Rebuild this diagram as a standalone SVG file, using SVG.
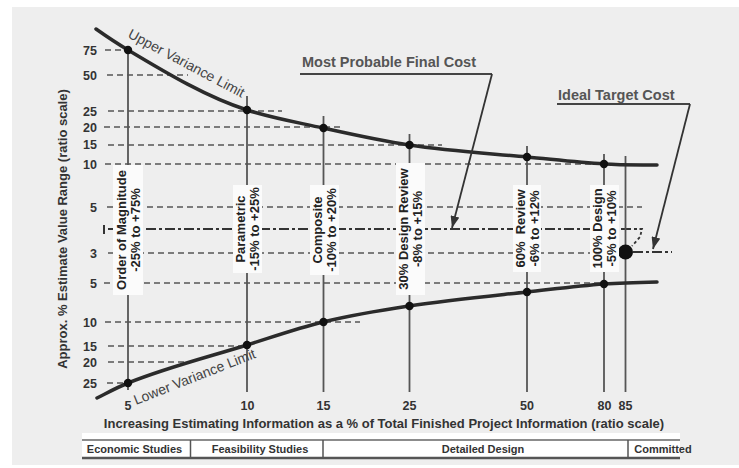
<svg xmlns="http://www.w3.org/2000/svg" width="739" height="468" viewBox="0 0 739 468">
<style>
.t{font-family:"Liberation Sans",Arial,sans-serif;font-weight:bold;fill:#333}
.tk{font-size:12.5px}
.bx{font-size:13px;text-anchor:middle;fill:#222}
.dash{stroke:#555;stroke-width:1.6;stroke-dasharray:6 4;fill:none}
.dd{stroke:#333;stroke-width:2;stroke-dasharray:10 3 3 3;fill:none}
.vl{stroke:#555;stroke-width:1.8}
.curve{stroke:#2b2b2b;stroke-width:3.5;fill:none;stroke-linecap:round}
.dot{fill:#111}
.box{fill:#fbfbfb}
.lim{font-family:"Liberation Sans",Arial,sans-serif;font-size:14px;fill:#444}
.call{font-family:"Liberation Sans",Arial,sans-serif;font-weight:bold;font-size:14.5px;fill:#555}
.tbl{font-family:"Liberation Sans",Arial,sans-serif;font-weight:bold;font-size:11px;fill:#333;text-anchor:middle}
</style>
<defs>
<marker id="ah" markerUnits="userSpaceOnUse" markerWidth="13" markerHeight="9" refX="12" refY="4.5" orient="auto">
<path d="M0,0 L12,4.5 L0,9 z" fill="#333"/>
</marker>
</defs>
<rect x="0" y="0" width="739" height="468" fill="#ffffff"/>
<rect x="12" y="7" width="727" height="458" fill="#eeeeee"/>

<g id="grid">
<line class="dash" x1="105" y1="50" x2="124" y2="50"/>
<line class="dash" x1="107" y1="75" x2="188" y2="75"/>
<line class="dash" x1="108" y1="111" x2="282" y2="111"/>
<line class="dash" x1="104" y1="127" x2="343" y2="127"/>
<line class="dash" x1="108" y1="145" x2="442" y2="145"/>
<line class="dash" x1="105" y1="164" x2="602" y2="164"/>
<line class="dash" x1="107" y1="207" x2="642" y2="207"/>
<line class="dd" x1="108" y1="229" x2="640" y2="229"/>
<line stroke="#333" stroke-width="2" x1="104" y1="225" x2="104" y2="234"/>
<line class="dash" x1="108" y1="253" x2="620" y2="253"/>
<line class="dd" x1="633" y1="252" x2="672" y2="252"/>
<path d="M634,229 L642,229 L640,237 L632,246" stroke="#333" stroke-width="1.8" stroke-dasharray="3 2.5" fill="none"/>
<line class="dash" x1="104" y1="283" x2="604" y2="283"/>
<line class="dash" x1="105" y1="322" x2="360" y2="322"/>
<line class="dash" x1="108" y1="346" x2="245" y2="346"/>
<line class="dash" x1="108" y1="362" x2="185" y2="362"/>
<line class="dash" x1="107" y1="383" x2="125" y2="383"/>
</g>

<g id="verticals">
<line class="vl" x1="128" y1="50" x2="128" y2="390"/>
<line class="vl" x1="247" y1="96" x2="247" y2="392"/>
<line class="vl" x1="323.5" y1="116" x2="323.5" y2="392"/>
<line class="vl" x1="409.5" y1="134" x2="409.5" y2="392"/>
<line class="vl" x1="527" y1="146" x2="527" y2="392"/>
<line class="vl" x1="604" y1="154" x2="604" y2="392"/>
<line class="vl" x1="625.5" y1="156" x2="625.5" y2="392"/>
</g>

<g id="curves">
<path class="curve" d="M96,29 C106.7,36.5 117.3,43.6 128,50 C167.7,73.8 207.3,97.3 247,110 C272.3,118.1 297.7,122.4 323,128 C351.7,134.3 380.3,140.7 409,145 C448.3,150.9 487.7,153.3 527,157 C552.7,159.4 578.3,162.5 604,164 C621.7,165.1 639.3,164.8 657,165"/>
<path class="curve" d="M97,398 C107.3,392.8 117.7,387.1 128,383 C167.7,367.1 207.3,357.3 247,345 C272.3,337.1 297.7,328.1 323,322 C351.7,315.1 380.3,310.3 409,306 C448.3,300.1 487.7,296.3 527,292 C552.7,289.2 578.3,285.8 604,284 C621.7,282.8 639.3,282.4 657,282"/>
<g class="dot">
<circle cx="128" cy="50" r="4.2"/><circle cx="247" cy="110" r="4.2"/><circle cx="323.5" cy="128" r="4.2"/>
<circle cx="409.5" cy="145" r="4.2"/><circle cx="527" cy="157" r="4.2"/><circle cx="604" cy="164" r="4.2"/>
<circle cx="128" cy="383" r="4.2"/><circle cx="247" cy="345" r="4.2"/><circle cx="323.5" cy="322" r="4.2"/>
<circle cx="409.5" cy="306" r="4.2"/><circle cx="527" cy="292" r="4.2"/><circle cx="604" cy="284" r="4.2"/>
<circle cx="625.5" cy="252" r="7.5"/>
</g>
<text class="lim" transform="translate(127,37) rotate(28)">Upper Variance Limit</text>
<text class="lim" transform="translate(136,405) rotate(-21.5)">Lower Variance Limit</text>
</g>

<g id="estimate-order-of-magnitude">
<rect class="box" x="113" y="165" width="30" height="130"/>
<g transform="translate(128,230) rotate(-90)"><text class="t bx" x="0" y="-2.5">Order of Magnitude</text><text class="t bx" x="0" y="11.5">-25% to +75%</text></g>
</g>
<g id="estimate-parametric">
<rect class="box" x="233" y="185" width="29" height="88"/>
<g transform="translate(247.5,229) rotate(-90)"><text class="t bx" x="0" y="-2.5">Parametric</text><text class="t bx" x="0" y="11.5">-15% to +25%</text></g>
</g>
<g id="estimate-composite">
<rect class="box" x="310" y="185" width="29" height="90"/>
<g transform="translate(324.5,230) rotate(-90)"><text class="t bx" x="0" y="-2.5">Composite</text><text class="t bx" x="0" y="11.5">-10% to +20%</text></g>
</g>
<g id="estimate-30-design-review">
<rect class="box" x="396" y="163" width="29" height="132"/>
<g transform="translate(410.5,229) rotate(-90)"><text class="t bx" x="0" y="-2.5">30% Design Review</text><text class="t bx" x="0" y="11.5">-8% to +15%</text></g>
</g>
<g id="estimate-60-review">
<rect class="box" x="513" y="185" width="28" height="87"/>
<g transform="translate(527,228.5) rotate(-90)"><text class="t bx" x="0" y="-2.5" xml:space="preserve">60%  Review</text><text class="t bx" x="0" y="11.5">-6% to +12%</text></g>
</g>
<g id="estimate-100-design">
<rect class="box" x="590" y="185" width="29" height="87"/>
<g transform="translate(604.5,228.5) rotate(-90)"><text class="t bx" x="0" y="-2.5">100% Design</text><text class="t bx" x="0" y="11.5">-5% to +10%</text></g>
</g>

<g id="y-axis">
<g class="t tk" text-anchor="end">
<text x="97" y="54.5">75</text><text x="97" y="79.5">50</text><text x="97" y="115.5">25</text>
<text x="97" y="131.5">20</text><text x="97" y="148.5">15</text><text x="97" y="168.5">10</text>
<text x="97" y="211.5">5</text><text x="97" y="257.5">3</text><text x="97" y="287.5">5</text>
<text x="97" y="326.5">10</text><text x="97" y="350.5">15</text><text x="97" y="366.5">20</text>
<text x="97" y="387.5">25</text>
</g>
<text class="t" font-size="13" text-anchor="middle" transform="translate(66.5,229) rotate(-90)">Approx. % Estimate Value Range (ratio scale)</text>
</g>

<g id="x-axis">
<g class="t tk" text-anchor="middle">
<text x="128" y="410">5</text><text x="247.5" y="410">10</text><text x="323.5" y="410">15</text>
<text x="409.5" y="410">25</text><text x="527" y="410">50</text><text x="604.5" y="410">80</text><text x="625.5" y="410">85</text>
</g>
<text class="t" font-size="13" x="384" y="427.5" text-anchor="middle">Increasing Estimating Information as a % of Total Finished Project Information (ratio scale)</text>
</g>

<g id="callout-most-probable">
<text class="call" x="302" y="67">Most Probable Final Cost</text>
<line x1="300" y1="74" x2="492" y2="74" stroke="#444" stroke-width="2"/>
</g>
<g id="callout-ideal-target">
<text class="call" x="558" y="100">Ideal Target Cost</text>
<line x1="557" y1="104" x2="690" y2="104" stroke="#444" stroke-width="2"/>
</g>

<g id="connectors">
<line x1="492" y1="74" x2="452" y2="228" stroke="#333" stroke-width="1.8" marker-end="url(#ah)"/>
<line x1="690" y1="104" x2="653" y2="249" stroke="#333" stroke-width="1.8" marker-end="url(#ah)"/>
</g>

<g id="phase-table">
<rect x="82" y="433" width="598" height="26" fill="#ffffff"/>
<line x1="82" y1="440" x2="680" y2="440" stroke="#666" stroke-width="1.5"/>
<line x1="82" y1="458" x2="680" y2="458" stroke="#555" stroke-width="2.5"/>
<line x1="190.5" y1="440" x2="190.5" y2="458" stroke="#555" stroke-width="1.5"/>
<line x1="323" y1="440" x2="323" y2="458" stroke="#555" stroke-width="1.5"/>
<line x1="628" y1="440" x2="628" y2="458" stroke="#555" stroke-width="1.5"/>
<text class="tbl" x="134.5" y="453">Economic Studies</text>
<text class="tbl" x="260" y="453">Feasibility Studies</text>
<text class="tbl" x="483" y="453">Detailed Design</text>
<text class="tbl" x="663" y="453">Committed</text>
</g>
</svg>
